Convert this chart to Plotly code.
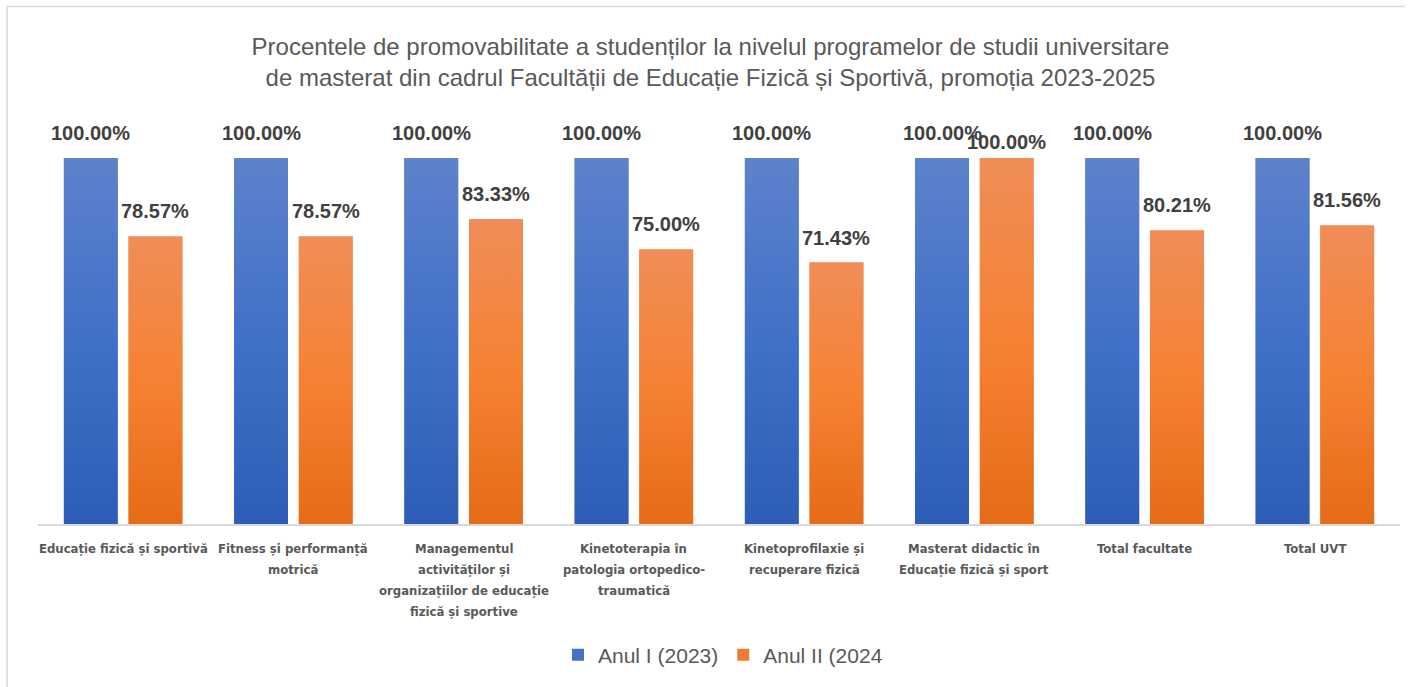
import plotly.graph_objects as go

# Programme names (tick labels, wrapped) and pass rates per year
categories = [
    "Educație fizică și sportivă",
    "Fitness și performanță<br>motrică",
    "Managementul<br>activităților și<br>organizațiilor de educație<br>fizică și sportive",
    "Kinetoterapia în<br>patologia ortopedico-<br>traumatică",
    "Kinetoprofilaxie și<br>recuperare fizică",
    "Masterat didactic în<br>Educație fizică și sport",
    "Total facultate",
    "Total UVT",
]
anul_1 = [100.00, 100.00, 100.00, 100.00, 100.00, 100.00, 100.00, 100.00]
anul_2 = [78.57, 78.57, 83.33, 75.00, 71.43, 100.00, 80.21, 81.56]
series_names = ["Anul I (2023)", "Anul II (2024"]

BLUE = "#4472C4"
ORANGE = "#ED7D31"
BLUE_GRAD = [[0, "#2D5DB6"], [0.5, "#4170C8"], [1, "#5D82CB"]]
ORANGE_GRAD = [[0, "#E56B17"], [0.5, "#F58233"], [1, "#F08D58"]]
W, H = 1421, 687
L, R, T, B = 38, 21, 110, 163
BAR_W = 0.316
GAP = 0.064
YMAX = 113.1
idx = list(range(len(categories)))

fig = go.Figure()
fig.add_trace(go.Bar(
    x=idx, y=anul_1, name=series_names[0],
    marker=dict(color=BLUE, line=dict(width=0)),
    width=BAR_W, offset=-(BAR_W + GAP / 2),
))
fig.add_trace(go.Bar(
    x=idx, y=anul_2, name=series_names[1],
    marker=dict(color=ORANGE, line=dict(width=0)),
    width=BAR_W, offset=GAP / 2,
))

# vertical gradient fill laid over each bar's own extent
def gradient_overlay(values, left_offset, scale):
    for i, v in zip(idx, values):
        x0 = i + left_offset
        x1 = x0 + BAR_W
        fig.add_trace(go.Scatter(
            x=[x0, x0, x1, x1, x0], y=[0, v, v, 0, 0],
            mode="lines", line=dict(width=0), fill="toself",
            fillgradient=dict(type="vertical", colorscale=scale, start=0, stop=v),
            showlegend=False, hoverinfo="skip",
        ))

gradient_overlay(anul_1, -(BAR_W + GAP / 2), BLUE_GRAD)
gradient_overlay(anul_2, GAP / 2, ORANGE_GRAD)

# value labels above each bar
label_font = dict(family="Liberation Sans, Arial, sans-serif", size=20, color="#404040")
centre = BAR_W / 2 + GAP / 2
for i, (a, b) in enumerate(zip(anul_1, anul_2)):
    fig.add_annotation(x=i - centre, y=a, text=f"<b>{a:.2f}%</b>", showarrow=False,
                       yanchor="bottom", yshift=12, font=label_font)
    shift = 3 if b == a else 12
    fig.add_annotation(x=i + centre, y=b, text=f"<b>{b:.2f}%</b>", showarrow=False,
                       yanchor="bottom", yshift=shift, font=label_font)

# category labels, one line at a time for Office-like line spacing
cat_font = dict(family="Liberation Sans Narrow, DejaVu Sans Condensed, sans-serif",
                size=13, color="#595959", weight="bold")
for i, label in enumerate(categories):
    for k, line in enumerate(label.split("<br>")):
        fig.add_annotation(x=i, y=0, xref="x", yref="paper", text=line, showarrow=False,
                           yanchor="middle", yshift=-(24 + 21 * k), font=cat_font)

# card border (top and left edges)
pw = W - L - R
ph = H - T - B
def px_x(p):
    return (p - L) / pw
def px_y(p):
    return (H - B - p) / ph
fig.add_shape(type="line", xref="paper", yref="paper",
              x0=px_x(7), x1=px_x(1405), y0=px_y(6.5), y1=px_y(6.5),
              line=dict(color="#D9D9D9", width=1.5))
fig.add_shape(type="line", xref="paper", yref="paper",
              x0=px_x(7), x1=px_x(7), y0=px_y(6.5), y1=px_y(H + 5),
              line=dict(color="#D9D9D9", width=1.5))

fig.update_layout(
    width=W, height=H,
    margin=dict(l=L, r=R, t=T, b=B),
    paper_bgcolor="white", plot_bgcolor="white",
    title=dict(
        text="Procentele de promovabilitate a studenților la nivelul programelor de studii universitare"
             "<br>de masterat din cadrul Facultății de Educație Fizică și Sportivă, promoția 2023-2025",
        x=0.5, xanchor="center", xref="container",
        y=1 - 55 / H, yanchor="middle", yref="container",
        font=dict(family="Liberation Sans, Arial, sans-serif", size=24, color="#595959"),
    ),
    xaxis=dict(
        tickmode="array", tickvals=idx, showticklabels=False,
        range=[-0.5, len(categories) - 0.5],
        showgrid=False, zeroline=False, ticks="",
        showline=True, linecolor="#D9D9D9", linewidth=2,
    ),
    yaxis=dict(range=[0, YMAX], visible=False, showgrid=False, zeroline=False),
    legend=dict(
        orientation="h", x=723 / W, xanchor="center", xref="container",
        y=1 - 655 / H, yanchor="middle", yref="container",
        font=dict(family="Liberation Sans, Arial, sans-serif", size=21, color="#595959"),
    ),
    showlegend=True,
)

fig.write_html("out.html")
